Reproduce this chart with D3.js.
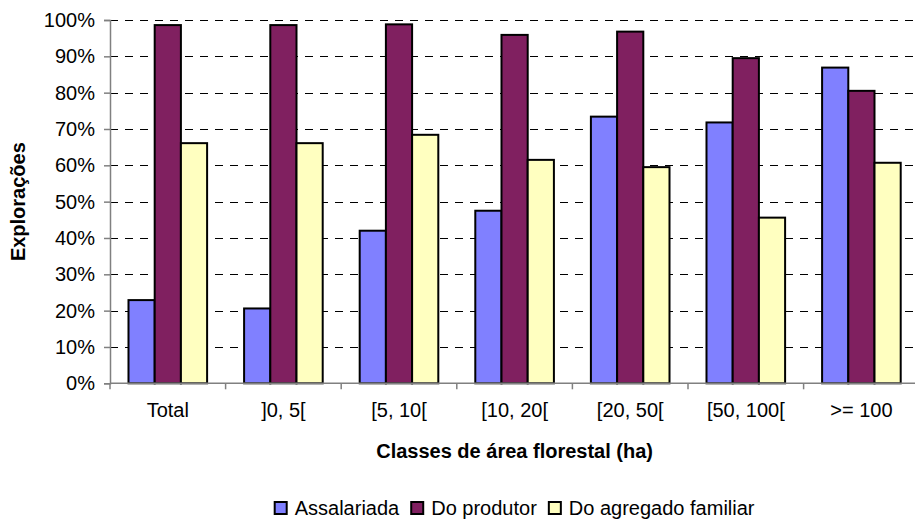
<!DOCTYPE html>
<html><head><meta charset="utf-8">
<script src="https://cdn.jsdelivr.net/npm/d3@7"></script>
<style>body{margin:0;background:#fff;} text{font-family:"Liberation Sans",Arial,sans-serif;fill:#000;}</style>
</head><body>
<svg id="c" width="915" height="521"></svg>
<script>
const categories = ["Total", "]0, 5[", "[5, 10[", "[10, 20[", "[20, 50[", "[50, 100[", ">= 100"];
const series = ["Assalariada", "Do produtor", "Do agregado familiar"];
const assalariada = [22.9, 20.6, 42.0, 47.5, 73.4, 71.8, 86.9];
const doProdutor = [98.6, 98.6, 98.8, 95.9, 96.8, 89.5, 80.5];
const doAgregado = [66.1, 66.1, 68.4, 61.5, 59.5, 45.6, 60.7];
const yTicks = [0, 10, 20, 30, 40, 50, 60, 70, 80, 90, 100];
const colors = ["#8080FF", "#802060", "#FFFFC0"];
const yTitle = "Explorações";
const xTitle = "Classes de área florestal (ha)";

(function () {
const values = [assalariada, doProdutor, doAgregado];
const svg = d3.select("#c");
const pLeft = 110, pRight = 919.2, pTop = 20, pBottom = 383.3;

const x0 = d3.scaleBand().domain(categories).range([pLeft, pRight]).paddingInner(0).paddingOuter(0);
const bw = x0.bandwidth();
const x1 = d3.scaleBand().domain(series).range([bw*0.16, bw*0.84]).padding(0);
const y = d3.scaleLinear().domain([0, 100]).range([pBottom, pTop]);
const color = d3.scaleOrdinal().domain(series).range(colors);

// gridlines
svg.append("g").selectAll("line").data(yTicks.filter(d => d > 0)).join("line")
  .attr("x1", pLeft).attr("x2", 915).attr("y1", d => Math.round(y(d)) + 0.5).attr("y2", d => Math.round(y(d)) + 0.5)
  .attr("stroke", "#000").attr("stroke-width", 1).attr("stroke-dasharray", "8,7");

// bars
const groups = svg.append("g").selectAll("g").data(categories).join("g")
  .attr("transform", d => `translate(${x0(d)},0)`);
groups.selectAll("rect").data((c, i) => series.map((s, j) => ({s, v: values[j][i]}))).join("rect")
  .attr("x", d => x1(d.s)).attr("width", x1.bandwidth())
  .attr("y", d => y(d.v)).attr("height", d => y(0) - y(d.v))
  .attr("fill", d => color(d.s)).attr("stroke", "#000").attr("stroke-width", 2);

// y axis
const yAxis = d3.axisLeft(y).tickValues(yTicks).tickFormat(d => d + "%").tickSize(6).tickPadding(9);
const gy = svg.append("g").attr("transform", `translate(${pLeft},0)`).call(yAxis);
gy.select(".domain").attr("stroke", "#808080").attr("stroke-width", 1.5);
gy.selectAll(".tick line").attr("stroke", "#808080").attr("stroke-width", 1.5);
gy.selectAll("text").style("font-size", "20px").style("font-family", '"Liberation Sans",Arial,sans-serif').attr("fill", "#000");

// x axis
const xAxis = d3.axisBottom(x0).tickSize(0).tickPadding(20);
const gx = svg.append("g").attr("transform", `translate(0,${pBottom})`).call(xAxis);
gx.select(".domain").attr("stroke", "#808080").attr("stroke-width", 1.5).attr("d", `M${pLeft},0H915`);
gx.selectAll("text").style("font-size", "20px").style("font-family", '"Liberation Sans",Arial,sans-serif').attr("fill", "#000");
const bounds = categories.map(c => x0(c)).concat([pRight]);
gx.append("g").selectAll("line").data(bounds).join("line")
  .attr("x1", d => d).attr("x2", d => d).attr("y1", 0).attr("y2", 6)
  .attr("stroke", "#808080").attr("stroke-width", 1.5);

// titles
svg.append("text").attr("transform", `translate(25,${(pTop+pBottom)/2}) rotate(-90)`)
  .attr("text-anchor", "middle").style("font-size", "20px").style("font-weight", "bold").text(yTitle);
svg.append("text").attr("x", (pLeft + pRight)/2).attr("y", 458)
  .attr("text-anchor", "middle").style("font-size", "20px").style("font-weight", "bold").text(xTitle);

// legend
const lg = svg.append("g");
let lx = 0;
series.forEach((s, i) => {
  const g = lg.append("g").attr("transform", `translate(${lx},0)`);
  g.append("rect").attr("x", 0).attr("y", 502).attr("width", 12).attr("height", 12)
    .attr("fill", colors[i]).attr("stroke", "#000").attr("stroke-width", 2);
  const t = g.append("text").attr("x", 20).attr("y", 515).style("font-size", "20px").text(s);
  lx += 20 + t.node().getComputedTextLength() + 12;
});
const total = lx - 12;
lg.attr("transform", `translate(${(pLeft + pRight)/2 - total/2},0)`);
})();
</script>
</body></html>
